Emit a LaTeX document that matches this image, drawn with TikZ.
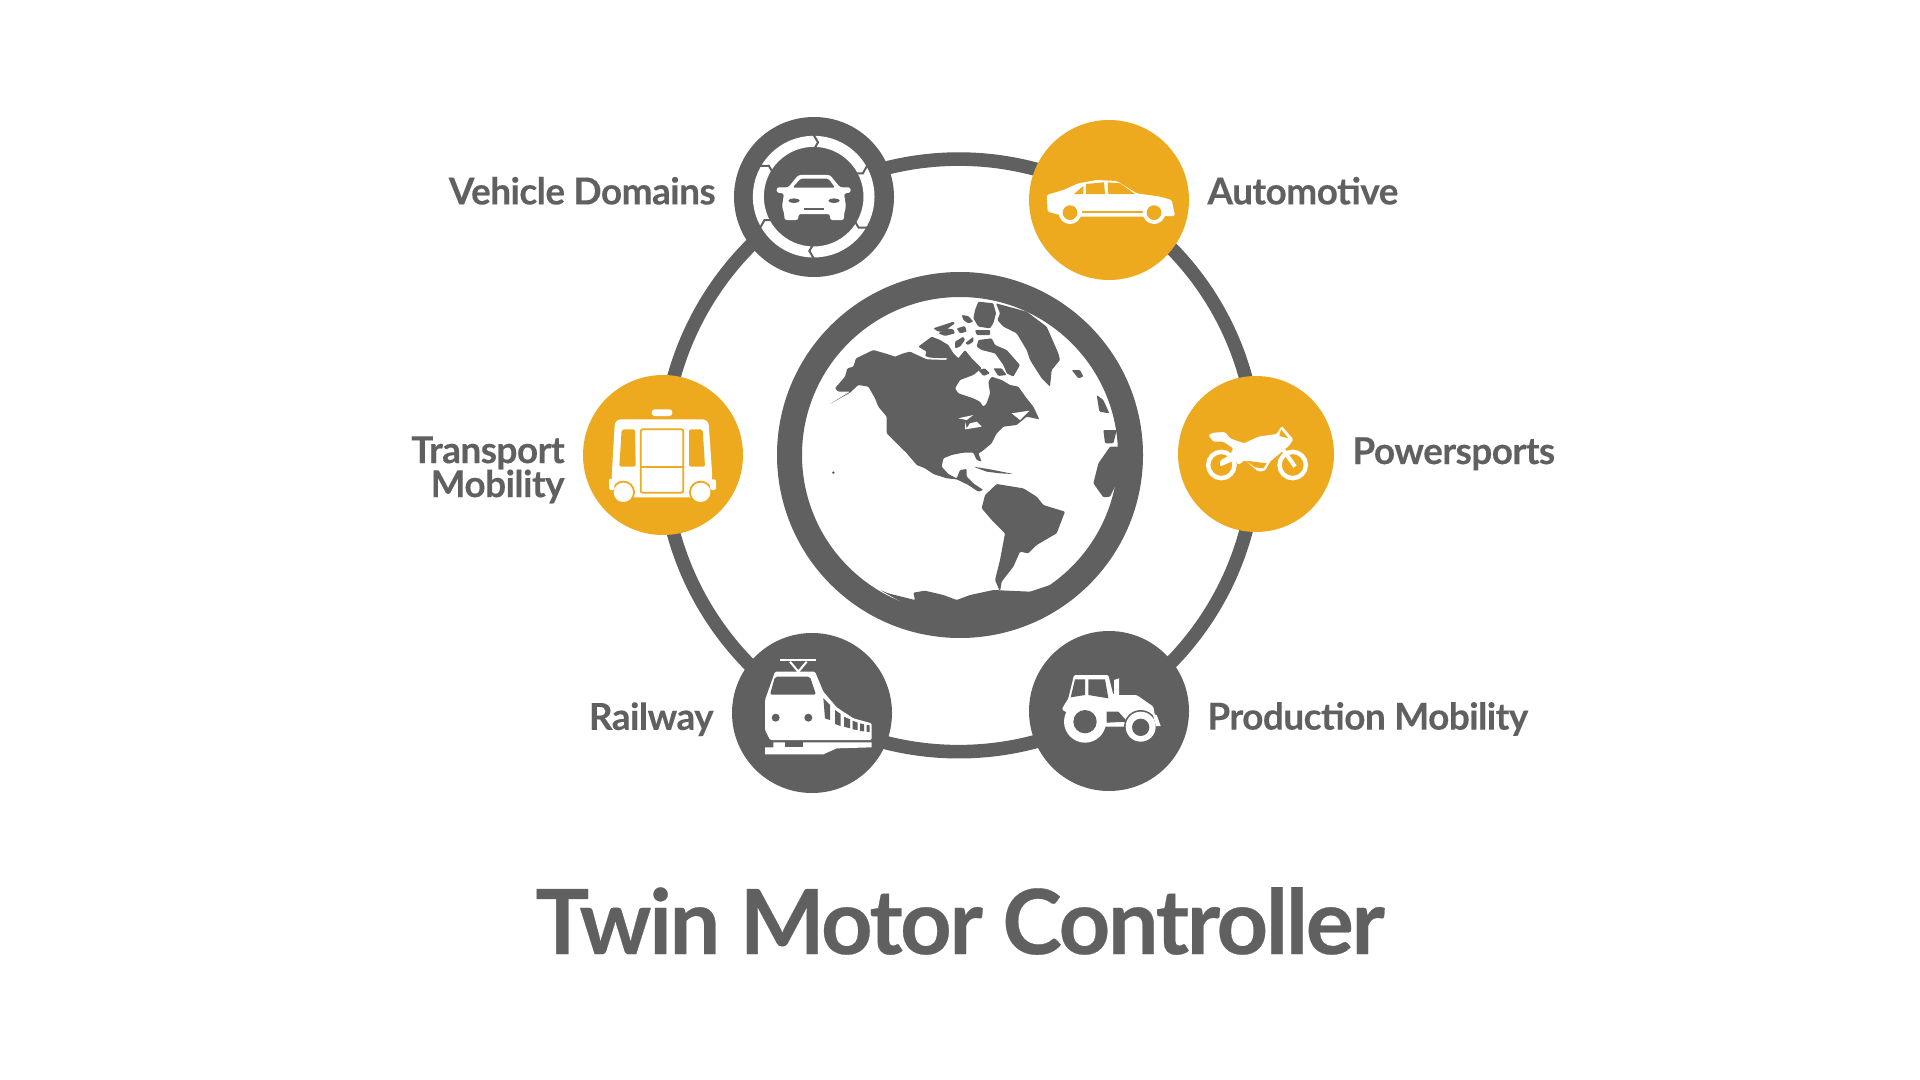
\documentclass[tikz,border=0pt]{standalone}
\usepackage{fontspec}
\setmainfont{Lato}
\usepackage{xcolor}
\usepackage{tikz}
\usetikzlibrary{positioning,backgrounds}
\definecolor{ink}{HTML}{606060}
\definecolor{gold}{HTML}{EEAA1E}

\begin{document}
\begin{tikzpicture}[
    x=.5pt, y=-.5pt,
    node distance=9pt,
    hub/.style={circle, inner sep=0pt, outer sep=0pt, minimum size=80pt, fill=ink},
    goldhub/.style={hub, fill=gold},
    globe/.style={circle, draw=ink, line width=12.5pt, inner sep=0pt, outer sep=0pt, minimum size=170.5pt},
    hubtext/.style={font=\fontsize{18.5}{17}\selectfont\bfseries\addfontfeature{LetterSpace=-1.5,FakeBold=0.25}, text=ink, inner sep=0pt},
    hublabel/.style={hubtext, text height=0pt, text depth=0pt},
    titlelabel/.style={font=\fontsize{45}{45}\selectfont\bfseries\addfontfeature{LetterSpace=-2.7,FakeBold=0.3}, text=ink, inner sep=0pt},
    ringline/.style={draw=ink, line width=6.8pt},
    tracing/.style={shift={#1}, x=.16667pt, y=-.16667pt},
    land/.style={fill=ink, rounded corners=.5pt},
    cutout/.style={draw=#1, line width=.9pt, fill=none, line join=round},
    whitepart/.style={fill=white, rounded corners=.7pt}
]
\useasboundingbox (0,0) rectangle (1920,1080);

\node[globe] (earth) at (960,455) {};
\node[hub] (vehicle) at (814,197) {};
\node[goldhub] (automotive) at (1109,200) {};
\node[goldhub] (transport) at (663,455) {};
\node[goldhub, minimum size=78pt] (powersports) at (1256,454) {};
\node[hub] (railway) at (812,713) {};
\node[hub] (production) at (1109,711) {};

\node[hublabel, left=of vehicle, yshift=-3.7pt] (vehiclelabel) {Vehicle Domains};
\node[hublabel, right=of automotive, yshift=-2.2pt] (automotivelabel) {Automotive};
\node[hubtext, left=of transport, yshift=-7.4pt, align=right] (transportlabel) {Transport\\Mobility};
\node[hublabel, right=of powersports, yshift=-5pt] (powersportslabel) {Powersports};
\node[hublabel, left=of railway, yshift=-8.4pt] (railwaylabel) {Railway};
\node[hublabel, right=of production, yshift=-9.3pt] (productionlabel) {Production Mobility};
\node[titlelabel] (title) at (960,921) {Twin Motor Controller};

\begin{pgfonlayer}{background}
\foreach \from/\to in {vehicle/automotive,automotive/powersports,powersports/production,production/railway,railway/transport,transport/vehicle}
    \draw[ringline] (\from.center) to[bend left=30, looseness=.91] (\to.center);
\end{pgfonlayer}

% continents
\begin{scope}[tracing={(770,270)}]
\fill[land] (180,402) -- (240,365) -- (205,365) -- (195,355) -- (225,320) -- (232,295) -- (250,290) -- (258,265) -- (310,240) -- (345,250) -- (375,260) -- (400,250) -- (420,245) -- (470,268) -- (530,270) -- (542,242) -- (565,265) -- (585,240) -- (605,265) -- (635,295) -- (610,315) -- (570,330) -- (555,355) -- (565,370) -- (610,385) -- (630,395) -- (640,410) -- (650,400) -- (660,370) -- (655,335) -- (665,320) -- (695,330) -- (720,345) -- (745,350) -- (770,385) -- (790,410) -- (808,448) -- (770,440) -- (740,465) -- (700,470) -- (680,490) -- (665,520) -- (635,545) -- (625,550) -- (635,575) -- (620,570) -- (610,548) -- (580,548) -- (545,555) -- (520,565) -- (515,590) -- (535,612) -- (560,625) -- (570,600) -- (590,597) -- (590,620) -- (610,640) -- (640,660) -- (625,665) -- (595,645) -- (560,628) -- (530,625) -- (490,612) -- (465,595) -- (440,585) -- (400,540) -- (350,490) -- (350,440) -- (325,410) -- (315,385) -- (295,350) -- (265,345) -- (240,368) -- cycle;
\draw[white, line width=.8pt] (402,545) -- (436,585);
\fill[white] (565,445) -- (610,435) -- (590,450) -- cycle;
\fill[white] (585,455) -- (590,475) -- (600,460) -- (620,455) -- (635,470) -- (605,475) -- (585,478) -- cycle;
\fill[white] (725,430) -- (778,422) -- (750,450) -- cycle;
\fill[land] (635,715) -- (645,675) -- (680,642) -- (760,655) -- (800,680) -- (820,705) -- (885,725) -- (860,790) -- (800,825) -- (775,850) -- (750,845) -- (730,890) -- (695,935) -- (690,965) -- (675,930) -- (690,870) -- (705,790) -- (665,750) -- cycle;
\fill[land] (330,960) -- (355,970) -- (435,990) -- (430,968) -- (465,962) -- (520,975) -- (560,990) -- (600,975) -- (670,960) -- (780,965) -- (840,945) -- (700,1045) -- (480,1045) -- cycle;
\fill[land] (1045,530) -- (1020,530) -- (985,580) -- (970,640) -- (1000,682) -- (1020,680) -- (1060,600) -- (1060,530) -- cycle;
\fill[land] (980,375) -- (1000,390) -- (1018,430) -- (1005,428) -- (988,425) -- cycle;
\fill[land] (1000,480) -- (1040,480) -- (1030,520) -- (1005,520) -- cycle;
\fill[land] (610,590) -- (660,598) -- (730,612) -- (690,610) -- (650,605) -- cycle;
\fill[land] (905,300) -- (930,300) -- (940,320) -- (925,325) -- cycle;
\fill[ink] (190,608) circle (4);
\end{scope}

% arctic islands
\begin{scope}[tracing={(910,290)}]
\fill[land] (205,35) -- (250,40) -- (258,70) -- (250,100) -- (240,115) -- (205,110) -- (190,85) -- (195,60) -- cycle;
\fill[land] (258,40) -- (350,65) -- (410,110) -- (445,190) -- (450,210) -- (425,240) -- (420,290) -- (395,265) -- (360,210) -- (350,180) -- (320,130) -- (280,110) -- (262,90) -- (270,70) -- cycle;
\fill[land] (155,75) -- (175,78) -- (190,95) -- (175,100) -- (160,90) -- cycle;
\fill[land] (70,115) -- (130,95) -- (135,100) -- (100,125) -- (85,125) -- cycle;
\fill[land] (85,130) -- (110,115) -- (130,118) -- (135,130) -- (105,138) -- cycle;
\fill[land] (140,115) -- (165,108) -- (170,125) -- (150,130) -- cycle;
\fill[land] (195,120) -- (240,120) -- (240,135) -- (200,135) -- cycle;
\fill[land] (25,170) -- (65,140) -- (90,150) -- (115,165) -- (130,190) -- (115,205) -- (60,203) -- (45,198) -- (50,185) -- cycle;
\fill[land] (135,155) -- (160,140) -- (165,150) -- (150,170) -- (135,175) -- cycle;
\fill[land] (165,160) -- (190,140) -- (190,155) -- (175,165) -- cycle;
\fill[land] (205,150) -- (245,145) -- (255,165) -- (290,180) -- (330,225) -- (310,260) -- (290,250) -- (280,225) -- (255,190) -- (215,180) -- (200,170) -- cycle;
\fill[land] (205,240) -- (225,235) -- (240,250) -- (220,258) -- cycle;
\fill[land] (250,235) -- (275,235) -- (290,255) -- (265,258) -- cycle;
\end{scope}

% vehicle domains icon
\begin{scope}[tracing={(720,100)}]
\draw[white, line width=5.5pt] (281,290) circle (166);
\foreach \a in {0,60,...,300}
    \draw[ink, line width=1pt, rotate around={\a:(281,290)}] (278,100) -- (294,127) -- (278,155);
\fill[white, rounded corners=1.2pt] (170,262) -- (198,262) -- (205,262) -- (235,225) -- (330,225) -- (360,262) -- (392,262) -- (392,278) -- (372,280) -- (378,320) -- (372,342) -- (372,360) -- (330,360) -- (330,342) -- (235,342) -- (235,360) -- (193,360) -- (193,342) -- (186,320) -- (192,280) -- (170,278) -- cycle;
\fill[ink, rounded corners=.8pt] (218,263) -- (242,236) -- (325,236) -- (345,263) -- cycle;
\fill[ink] (222,302) ellipse (17 and 7);
\fill[ink] (342,302) ellipse (17 and 7);
\fill[ink] (252,325) rectangle (312,331);
\end{scope}

% automotive icon
\begin{scope}[tracing={(720,100)}]
\fill[whitepart] (980,285) -- (1030,270) -- (1075,250) -- (1130,240) -- (1190,243) -- (1250,280) -- (1320,290) -- (1355,300) -- (1365,348) -- (1270,350) -- (1085,350) -- (1020,345) -- (983,335) -- cycle;
\fill[gold] (1062,282) -- (1090,258) -- (1090,282) -- cycle;
\fill[gold] (1098,252) -- (1152,247) -- (1155,282) -- (1098,282) -- cycle;
\fill[gold] (1163,247) -- (1200,250) -- (1245,282) -- (1165,282) -- cycle;
\draw[cutout=gold] (1085,335) -- (1270,335);
\foreach \wx in {1050,1302} {
    \fill[white] (\wx,338) circle (34);
    \fill[gold] (\wx,338) circle (22);
}
\end{scope}

% transport mobility icon
\begin{scope}[tracing={(570,360)}]
\fill[white, rounded corners=1.5pt] (245,148) rectangle (307,168);
\fill[white, rounded corners=3pt] (135,178) -- (415,178) -- (427,350) -- (420,412) -- (132,412) -- (125,350) -- cycle;
\fill[gold, rounded corners=1pt] (155,208) -- (195,208) -- (197,320) -- (148,320) -- cycle;
\fill[gold, rounded corners=1pt] (357,208) -- (398,208) -- (405,320) -- (357,320) -- cycle;
\draw[cutout=gold, rounded corners=1pt] (212,208) rectangle (340,398);
\draw[cutout=gold] (212,320) -- (340,320);
\foreach \wx in {160,392} {
    \fill[gold] (\wx,397) circle (35);
    \fill[white] (\wx,397) circle (29);
}
\fill[white, rounded corners=1pt] (117,356) rectangle (133,390);
\fill[white, rounded corners=1pt] (420,358) rectangle (438,390);
\end{scope}

% powersports icon
\begin{scope}[tracing={(1170,370)}]
\draw[white, line width=2.2pt] (154,285) circle (39.5);
\draw[white, line width=2.2pt] (368,285) circle (39.5);
\fill[whitepart] (115,195) -- (130,188) -- (165,186) -- (180,205) -- (222,220) -- (265,200) -- (320,192) -- (335,168) -- (370,208) -- (355,230) -- (340,240) -- (330,250) -- (300,275) -- (285,302) -- (265,305) -- (225,270) -- (205,285) -- (195,270) -- (150,290) -- (150,272) -- (180,255) -- (190,235) -- (160,215) -- (130,215) -- cycle;
\draw[white, line width=2pt] (340,240) -- (375,290);
\fill[gold] (333,178) -- (355,205) -- (328,198) -- cycle;
\fill[gold] (228,272) -- (290,280) -- (280,295) -- (255,292) -- cycle;
\end{scope}

% railway icon
\begin{scope}[tracing={(720,620)}]
\draw[white, line width=1.4pt] (180,120) -- (287,120);
\draw[white, line width=1pt] (210,125) -- (235,155) -- (260,125);
\fill[whitepart] (165,155) -- (285,155) -- (310,215) -- (350,262) -- (400,295) -- (455,310) -- (455,360) -- (150,360) -- (135,330) -- (135,240) -- cycle;
\fill[ink, rounded corners=1pt] (165,170) -- (270,170) -- (288,224) -- (150,224) -- cycle;
\fill[ink] (167,293) circle (12);
\fill[ink] (265,293) circle (12);
\fill[ink] (310,235) -- (330,255) -- (330,300) -- (315,295) -- cycle;
\fill[ink] (345,270) -- (362,282) -- (362,318) -- (345,312) -- cycle;
\fill[ink] (372,290) -- (390,298) -- (390,325) -- (372,320) -- cycle;
\fill[ink] (398,302) -- (413,308) -- (413,330) -- (398,328) -- cycle;
\fill[ink] (420,310) -- (432,313) -- (432,334) -- (420,333) -- cycle;
\fill[ink] (440,315) -- (449,316) -- (449,336) -- (440,335) -- cycle;
\fill[white] (135,403) -- (135,382) -- (160,382) -- (160,367) -- (455,367) -- (455,382) -- (350,385) -- (310,403) -- cycle;
\fill[ink] (195,367) rectangle (250,380);
\end{scope}

% production mobility icon
\begin{scope}[tracing={(720,620)}]
\fill[whitepart] (1025,268) -- (1045,235) -- (1062,165) -- (1165,165) -- (1180,225) -- (1250,225) -- (1300,260) -- (1305,290) -- (1230,320) -- (1150,320) -- (1130,290) -- (1060,290) -- cycle;
\fill[white] (1182,180) -- (1197,175) -- (1197,228) -- (1182,228) -- cycle;
\fill[ink] (1065,178) -- (1095,178) -- (1095,225) -- (1052,232) -- cycle;
\fill[ink] (1105,178) -- (1155,178) -- (1165,235) -- (1105,225) -- cycle;
\fill[ink] (1160,275) -- (1195,275) -- (1222,305) -- (1160,308) -- cycle;
\fill[white] (1095,305) circle (63);
\fill[ink] (1095,305) circle (35);
\fill[ink] (1262,320) circle (50);
\fill[white] (1262,320) circle (45);
\fill[ink] (1262,322) circle (26);
\fill[white] (1298,282) -- (1310,285) -- (1322,318) -- (1308,318) -- cycle;
\end{scope}
\end{tikzpicture}
\end{document}
